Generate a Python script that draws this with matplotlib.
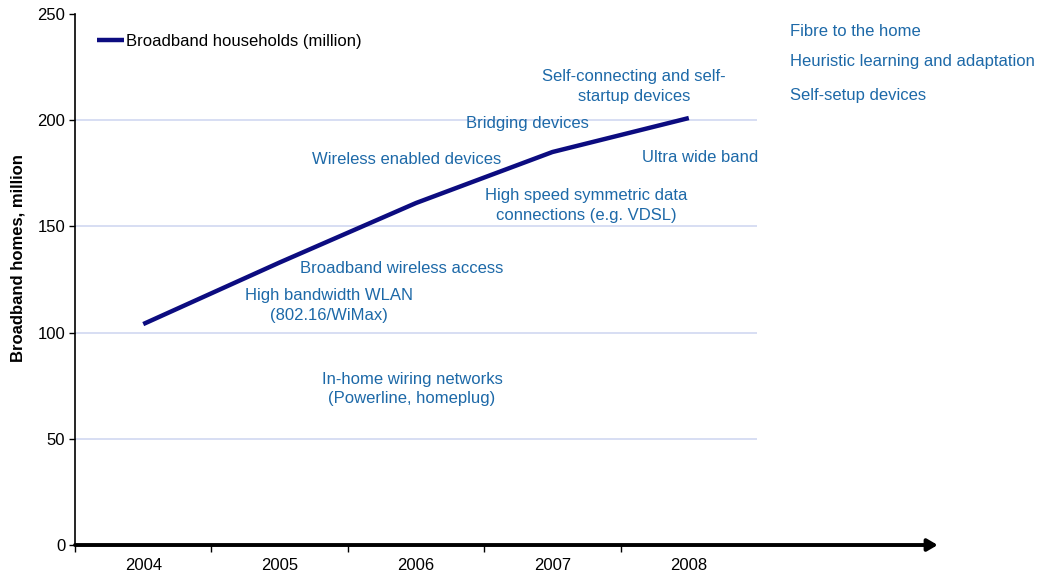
import matplotlib.pyplot as plt

plt.rcParams['font.family'] = ['Liberation Sans', 'DejaVu Sans']

years = ['2004', '2005', '2006', '2007', '2008']
households = [104, 133, 161, 185, 201]

# technology labels: text, x (category units), y (million), alignment
tech_notes = [
    ("Fibre to the home", 4.742, 241.9, 'left'),
    ("Heuristic learning and adaptation", 4.742, 227.8, 'left'),
    ("Self-setup devices", 4.742, 211.8, 'left'),
    ("Self-connecting and self-\nstartup devices", 3.598, 215.8, 'center'),
    ("Bridging devices", 2.814, 198.6, 'center'),
    ("Wireless enabled devices", 1.934, 181.6, 'center'),
    ("Ultra wide band", 4.082, 182.6, 'center'),
    ("High speed symmetric data\nconnections (e.g. VDSL)", 3.246, 159.8, 'center'),
    ("Broadband wireless access", 1.897, 130.4, 'center'),
    ("High bandwidth WLAN\n(802.16/WiMax)", 1.362, 112.9, 'center'),
    ("In-home wiring networks\n(Powerline, homeplug)", 1.971, 73.4, 'center'),
]

note_color = '#1d69a8'
line_color = '#0c0c80'

fig = plt.figure(figsize=(10.38, 5.76), dpi=100)
ax = fig.add_axes([0.0723, 0.0538, 0.657, 0.922])

x = list(range(len(years)))
ax.plot(x, households, color=line_color, lw=3.2, solid_capstyle='butt',
        label='Broadband households (million)', zorder=3)

ax.set_xlim(-0.5, 4.5)
ax.set_ylim(0, 250)
ax.set_yticks([0, 50, 100, 150, 200, 250])
for v in [50, 100, 150, 200]:
    ax.axhline(v, color='#cdd5f0', lw=1.1, zorder=1)

ax.set_xticks(x)
ax.set_xticklabels(years)
ax.set_xticks([i - 0.5 for i in range(len(years))], minor=True)
ax.tick_params(axis='x', which='major', length=0, pad=9, labelsize=12)
ax.tick_params(axis='x', which='minor', length=5, direction='out', width=1)
ax.tick_params(axis='y', length=4, width=1, labelsize=12, pad=3)

for s in ['top', 'right', 'bottom']:
    ax.spines[s].set_visible(False)
ax.spines['left'].set_linewidth(1.2)

# bottom axis drawn as an arrow running past the plot area
ax.annotate('', xy=(1.265, 0), xytext=(0, 0), xycoords='axes fraction',
            textcoords='axes fraction', annotation_clip=False,
            arrowprops=dict(arrowstyle='-|>,head_length=0.6,head_width=0.35',
                            color='black', lw=2.8, shrinkA=0, shrinkB=0))

ax.set_ylabel('Broadband homes, million', fontsize=12, fontweight='bold')
ax.yaxis.set_label_coords(-0.072, 0.54)

for text, tx, ty, ha in tech_notes:
    ax.text(tx, ty, text, ha=ha, va='center', color=note_color, fontsize=12,
            linespacing=1.4, clip_on=False)

ax.legend(loc='center left', bbox_to_anchor=(0.032, 0.949), frameon=False,
          borderpad=0, borderaxespad=0, handlelength=1.6, handletextpad=0.15,
          fontsize=12)

fig.savefig('out.png', dpi=100)
